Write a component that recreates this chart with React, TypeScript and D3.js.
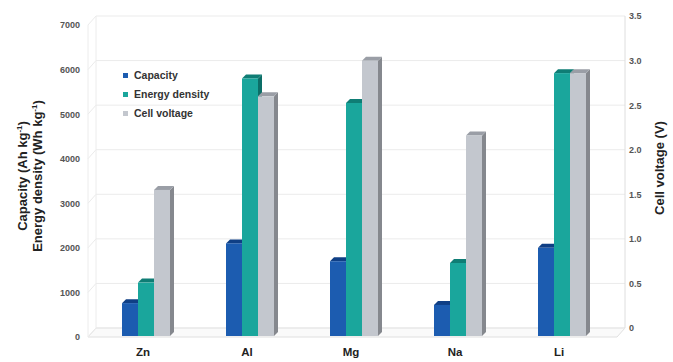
import React, { useEffect, useRef } from "react";
import * as d3 from "d3";

// metals on the x axis
const metals = ["Zn", "Al", "Mg", "Na", "Li"];
// Ah/kg
const capacity = [760, 2100, 1700, 720, 2000];
// Wh/kg
const energyDensity = [1220, 5800, 5250, 1660, 5920];
// V
const cellVoltage = [1.65, 2.7, 3.1, 2.26, 2.96];

const leftTicks = [0, 1000, 2000, 3000, 4000, 5000, 6000, 7000];
const rightTicks = [0, 0.5, 1.0, 1.5, 2.0, 2.5, 3.0, 3.5];

const seriesNames = ["Capacity", "Energy density", "Cell voltage"];
const colors = [
  { front: "#1c5cb0", top: "#0f3f85", side: "#0d3a78" },
  { front: "#1aa69c", top: "#0f7d75", side: "#0c6e67" },
  { front: "#c3c7ce", top: "#9a9ea6", side: "#85888e" },
];

const W = 673;
const H = 362;
const depth = { dx: 8, dy: -9 };

export default function App() {
  const svgRef = useRef<SVGSVGElement>(null);

  useEffect(() => {
    const svg = d3.select(svgRef.current);
    svg.selectAll("*").remove();

    const x0 = 88, x1 = 617;
    const x = d3.scaleBand().domain(metals).range([94, 614]);
    const yL = d3.scaleLinear().domain([0, 7000]).range([337, 25]);
    const yR = d3.scaleLinear().domain([0, 3.5]).range([337, 25]);

    const font = "Arial, 'Liberation Sans', sans-serif";

    // floor
    svg.append("path")
      .attr("d", `M${x0},${yL(0)} L${x1},${yL(0)} L${x1 + depth.dx},${yL(0) + depth.dy} L${x0 + depth.dx},${yL(0) + depth.dy} Z`)
      .attr("fill", "#fafafa")
      .attr("stroke", "#e0e0e0");

    // back wall gridlines + side wall
    const grid = svg.append("g");
    leftTicks.forEach(t => {
      const yf = yL(t);
      grid.append("line")
        .attr("x1", x0 + depth.dx).attr("x2", x1 + depth.dx)
        .attr("y1", yf + depth.dy).attr("y2", yf + depth.dy)
        .attr("stroke", "#ebebeb");
      grid.append("line")
        .attr("x1", x0).attr("x2", x0 + depth.dx)
        .attr("y1", yf).attr("y2", yf + depth.dy)
        .attr("stroke", "#ebebeb");
    });
    grid.append("line")
      .attr("x1", x0).attr("x2", x0).attr("y1", yL(0)).attr("y2", yL(7000))
      .attr("stroke", "#ececec");
    grid.append("line")
      .attr("x1", x0 + depth.dx).attr("x2", x0 + depth.dx)
      .attr("y1", yL(0) + depth.dy).attr("y2", yL(7000) + depth.dy)
      .attr("stroke", "#ececec");
    grid.append("line")
      .attr("x1", x1 + depth.dx).attr("x2", x1 + depth.dx)
      .attr("y1", yL(0) + depth.dy).attr("y2", yL(7000) + depth.dy)
      .attr("stroke", "#dedede");

    // bars (3d)
    const bw = 16;
    const bd = { dx: 4, dy: -4 };
    const base = 336;
    metals.forEach((m, i) => {
      const cx = (x(m) as number) + x.bandwidth() / 2;
      const tops = [yL(capacity[i]), yL(energyDensity[i]), yR(cellVoltage[i])];
      tops.forEach((top, k) => {
        const bx = cx - 1.5 * bw + k * bw;
        const c = colors[k];
        const g = svg.append("g");
        g.append("path")
          .attr("d", `M${bx + bw},${base} L${bx + bw + bd.dx},${base + bd.dy} L${bx + bw + bd.dx},${top + bd.dy} L${bx + bw},${top} Z`)
          .attr("fill", c.side);
        g.append("path")
          .attr("d", `M${bx},${top} L${bx + bd.dx},${top + bd.dy} L${bx + bw + bd.dx},${top + bd.dy} L${bx + bw},${top} Z`)
          .attr("fill", c.top);
        g.append("rect")
          .attr("x", bx).attr("y", top)
          .attr("width", bw).attr("height", base - top)
          .attr("fill", c.front);
      });
    });

    // left tick labels
    svg.append("g").selectAll("text").data(leftTicks).join("text")
      .attr("x", 80).attr("y", d => yL(d) + 1)
      .attr("text-anchor", "end").attr("dominant-baseline", "middle")
      .attr("font-family", font).attr("font-size", 9).attr("font-weight", "bold")
      .attr("fill", "#555")
      .text(d => d);

    // right tick labels
    svg.append("g").selectAll("text").data(rightTicks).join("text")
      .attr("x", 629).attr("y", d => yR(d) + depth.dy + 1)
      .attr("text-anchor", "start").attr("dominant-baseline", "middle")
      .attr("font-family", font).attr("font-size", 9).attr("font-weight", "bold")
      .attr("fill", "#555")
      .text(d => (d === 0 ? "0" : d.toFixed(1)));

    // x labels
    svg.append("g").selectAll("text").data(metals).join("text")
      .attr("x", m => (x(m) as number) + x.bandwidth() / 2 - 3)
      .attr("y", 353)
      .attr("text-anchor", "middle").attr("dominant-baseline", "middle")
      .attr("font-family", font).attr("font-size", 11.5).attr("font-weight", "bold")
      .attr("fill", "#222")
      .text(m => m);

    // axis titles
    const lt = svg.append("text")
      .attr("transform", "translate(27,176) rotate(-90)")
      .attr("text-anchor", "middle")
      .attr("font-family", font).attr("font-size", 13).attr("font-weight", "bold")
      .attr("fill", "#222");
    lt.append("tspan").text("Capacity (Ah kg");
    lt.append("tspan").attr("dy", -5).attr("font-size", 8).text("-1");
    lt.append("tspan").attr("dy", 5).text(")");
    const lt2 = svg.append("text")
      .attr("transform", "translate(42,176) rotate(-90)")
      .attr("text-anchor", "middle")
      .attr("font-family", font).attr("font-size", 13).attr("font-weight", "bold")
      .attr("fill", "#222");
    lt2.append("tspan").text("Energy density (Wh kg");
    lt2.append("tspan").attr("dy", -5).attr("font-size", 8).text("-1");
    lt2.append("tspan").attr("dy", 5).text(")");

    svg.append("text")
      .attr("transform", "translate(664,168) rotate(-90)")
      .attr("text-anchor", "middle")
      .attr("font-family", font).attr("font-size", 13).attr("font-weight", "bold")
      .attr("fill", "#222")
      .text("Cell voltage (V)");

    // legend
    const lg = svg.append("g").attr("transform", "translate(123,76)");
    seriesNames.forEach((s, k) => {
      lg.append("rect").attr("x", 0).attr("y", k * 19 - 3).attr("width", 5).attr("height", 5)
        .attr("fill", colors[k].front);
      lg.append("text").attr("x", 11).attr("y", k * 19)
        .attr("dominant-baseline", "middle")
        .attr("font-family", font).attr("font-size", 10.5).attr("font-weight", "bold")
        .attr("fill", "#333")
        .text(s);
    });
  }, []);

  return (
    <svg ref={svgRef} width={W} height={H}
      style={{ position: "absolute", left: 0, top: 0, background: "#fff" }} />
  );
}
